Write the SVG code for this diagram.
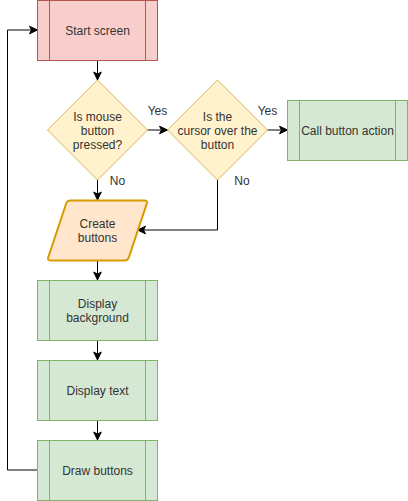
<svg xmlns="http://www.w3.org/2000/svg" width="408" height="501" viewBox="0 0 408 501">
<defs>
<style>
.t{font-family:"Liberation Sans",Arial,sans-serif;font-size:12px;fill:#333333;text-anchor:middle;dominant-baseline:central}
.red{fill:#f8cecc;stroke:#b85450}
.grn{fill:#d5e8d4;stroke:#82b366}
.dia{fill:#fff2cc;stroke:#d6b656}
.c{fill:none;stroke:#000;stroke-width:1}
</style>
<marker id="a" markerUnits="userSpaceOnUse" markerWidth="10" markerHeight="10" viewBox="0 0 10 10" refX="9" refY="5" orient="auto">
<path d="M1,1.2 L9,5 L1,8.8 L3,5 Z" fill="#000" stroke="#000" stroke-width="1"/>
</marker>
</defs>
<rect width="408" height="501" fill="#fff"/>
<g id="connectors">
<path class="c" d="M97.5,60.5 L97.5,80" marker-end="url(#a)"/>
<path class="c" d="M147.5,130 L167.5,130" marker-end="url(#a)"/>
<path class="c" d="M267.5,130 L287.5,130" marker-end="url(#a)"/>
<path class="c" d="M97.5,180 L97.5,200" marker-end="url(#a)"/>
<path class="c" d="M217.5,180 L217.5,230 L137.5,230" marker-end="url(#a)"/>
<path class="c" d="M97.5,260 L97.5,280" marker-end="url(#a)"/>
<path class="c" d="M97.5,340 L97.5,360" marker-end="url(#a)"/>
<path class="c" d="M97.5,420 L97.5,440" marker-end="url(#a)"/>
<path class="c" d="M37.5,470 L7.5,470 L7.5,30 L37.5,30" marker-end="url(#a)"/>
<text class="t" x="157.5" y="110.5">Yes</text>
<text class="t" x="267.5" y="110.5">Yes</text>
<text class="t" x="117.5" y="181">No</text>
<text class="t" x="242" y="181">No</text>
</g>
<g id="start">
<rect class="red" x="37.5" y="0.5" width="120" height="60"/>
<path class="red" d="M49.5,0.5 V60.5 M145.5,0.5 V60.5"/>
<text class="t" x="97.5" y="30.5">Start screen</text>
</g>
<g id="mouse">
<path class="dia" d="M97.5,80 L147.5,130 L97.5,180 L47.5,130 Z"/>
<text class="t" x="97.5" y="116.5">Is mouse</text>
<text class="t" x="97.5" y="130.5">button</text>
<text class="t" x="97.5" y="144.5">pressed?</text>
</g>
<g id="cursor">
<path class="dia" d="M217.5,80 L267.5,130 L217.5,180 L167.5,130 Z"/>
<text class="t" x="217.5" y="116.5">Is the</text>
<text class="t" x="217.5" y="130.5">cursor over the</text>
<text class="t" x="217.5" y="144.5">button</text>
</g>
<g id="call">
<rect class="grn" x="287.5" y="100.5" width="120" height="60"/>
<path class="grn" d="M299.5,100.5 V160.5 M395.5,100.5 V160.5"/>
<text class="t" x="347.5" y="130.5">Call button action</text>
</g>
<g id="create">
<path d="M70.5,200.5 L144,200.5 Q148.5,200.5 146.5,204.5 L129,257 Q128,260.5 124.5,260.5 L51,260.5 Q46.5,260.5 48.5,256.5 L66,204 Q67,200.5 70.5,200.5 Z" fill="#ffe6cc" stroke="#d79b00" stroke-width="2"/>
<text class="t" x="97.5" y="223.5">Create</text>
<text class="t" x="97.5" y="237.5">buttons</text>
</g>
<g id="background">
<rect class="grn" x="37.5" y="280.5" width="120" height="60"/>
<path class="grn" d="M49.5,280.5 V340.5 M145.5,280.5 V340.5"/>
<text class="t" x="97.5" y="303.5">Display</text>
<text class="t" x="97.5" y="317.5">background</text>
</g>
<g id="text">
<rect class="grn" x="37.5" y="360.5" width="120" height="60"/>
<path class="grn" d="M49.5,360.5 V420.5 M145.5,360.5 V420.5"/>
<text class="t" x="97.5" y="390.5">Display text</text>
</g>
<g id="draw">
<rect class="grn" x="37.5" y="440.5" width="120" height="60"/>
<path class="grn" d="M49.5,440.5 V500.5 M145.5,440.5 V500.5"/>
<text class="t" x="97.5" y="470.5">Draw buttons</text>
</g>
</svg>
